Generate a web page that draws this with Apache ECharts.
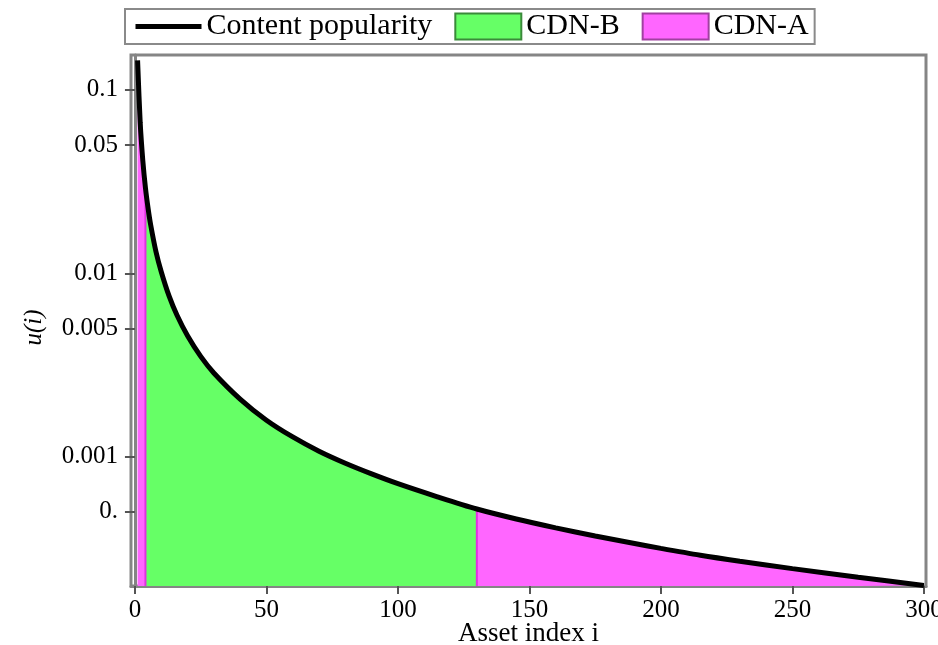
<!DOCTYPE html>
<html>
<head>
<meta charset="utf-8">
<script src="https://cdn.jsdelivr.net/npm/echarts@6/dist/echarts.min.js"></script>
<style>
  html, body { margin: 0; padding: 0; background: #fff; }
  #chart { width: 938px; height: 645px; }
</style>
</head>
<body>
<div id="chart"></div>
<script>
// Asset popularity u(i) sampled along the rank axis
const assetIndex = [1, 2, 3, 4, 5, 6, 8, 10, 13, 16, 20, 25, 30, 40, 50, 60, 70, 80, 90, 100,
                    115, 130, 145, 160, 175, 190, 200, 215, 230, 250, 275, 300];
const popularity = [0.145, 0.066, 0.041, 0.0292, 0.0226, 0.0183, 0.0131, 0.0102, 0.0075, 0.0059,
                    0.00456, 0.00352, 0.00286, 0.00206, 0.00158, 0.00128, 0.00107, 0.00092, 0.000805, 0.000712,
                    0.000604, 0.000518, 0.000457, 0.000409, 0.000369, 0.000336, 0.000316, 0.00029, 0.000269, 0.000245,
                    0.00022, 0.000198];

// Which CDN serves each rank range: [from, to, cdn]
const cdnRanges = [
  [1, 4, 'CDN-A'],
  [4, 130, 'CDN-B'],
  [130, 300, 'CDN-A']
];
const cdnSplits = [4, 130];

const xTicks = [0, 50, 100, 150, 200, 250, 300];
const yTicks = [0.1, 0.05, 0.01, 0.005, 0.001, 0.0005];
const yTickLabels = ['0.1', '0.05', '0.01', '0.005', '0.001', '0.'];

const X_MIN = -1.5, X_MAX = 300.8;
const Y_MIN = 0.000197, Y_MAX = 0.155;

const FONT = "'Liberation Serif', 'Times New Roman', serif";
const COLORS = { 'CDN-A': '#ff66ff', 'CDN-B': '#66ff66' };
const BORDERS = { 'CDN-A': '#a040a0', 'CDN-B': '#3a8a3a' };

const curve = assetIndex.map((x, k) => [x, popularity[k]]);
const valueAt = x => popularity[assetIndex.indexOf(x)];

const areaSeries = cdnRanges.map(([a, b, cdn]) => ({
  name: cdn,
  type: 'line',
  data: curve.filter(p => p[0] >= a && p[0] <= b),
  smooth: 0.3,
  symbol: 'none',
  lineStyle: { width: 0, color: COLORS[cdn] },
  itemStyle: { color: COLORS[cdn] },
  areaStyle: { color: COLORS[cdn], opacity: 1, origin: Y_MIN },
  z: 1,
  silent: true
}));

// vertical edges where coverage switches between CDNs
const edgeSeries = cdnSplits.map(s => ({
  type: 'line',
  data: [[s, Y_MIN], [s, valueAt(s)]],
  symbol: 'none',
  lineStyle: { width: 2, color: '#e030e0' },
  z: 2,
  silent: true
}));

const chart = echarts.init(document.getElementById('chart'), null, { renderer: 'canvas' });
chart.setOption({
  animation: false,
  backgroundColor: '#fff',
  textStyle: { fontFamily: FONT },
  legend: {
    left: 125,
    top: 9,
    padding: [2, 6, 2, 8],
    borderColor: '#8a8a8a',
    borderWidth: 2,
    itemWidth: 66,
    itemHeight: 26,
    itemGap: 22,
    textStyle: { fontFamily: FONT, fontSize: 30, lineHeight: 31, color: '#000' },
    data: [
      { name: 'Content popularity', itemStyle: { opacity: 0 }, lineStyle: { color: '#000', width: 5 } },
      { name: 'CDN-B', icon: 'rect', itemStyle: { color: COLORS['CDN-B'], borderColor: BORDERS['CDN-B'], borderWidth: 2 } },
      { name: 'CDN-A', icon: 'rect', itemStyle: { color: COLORS['CDN-A'], borderColor: BORDERS['CDN-A'], borderWidth: 2 } }
    ]
  },
  grid: {
    left: 131, right: 12, top: 55, bottom: 59,
    outerBoundsMode: 'none',
    containLabel: false,
    show: true, borderColor: '#858585', borderWidth: 3, backgroundColor: '#fff'
  },
  xAxis: {
    type: 'value',
    min: X_MIN, max: X_MAX,
    name: 'Asset index i',
    nameLocation: 'middle',
    nameGap: 34,
    nameMoveOverlap: false,
    nameTextStyle: { fontFamily: FONT, fontSize: 27, color: '#000' },
    axisLine: { show: true, lineStyle: { color: '#858585', width: 3 } },
    axisTick: { show: true, length: 8, lineStyle: { color: '#555', width: 2 }, customValues: xTicks },
    axisLabel: { fontFamily: FONT, fontSize: 25, color: '#000', margin: 12, customValues: xTicks },
    splitLine: { show: false }
  },
  yAxis: {
    type: 'log',
    logBase: 10,
    min: Y_MIN, max: Y_MAX,
    name: 'u(i)',
    nameLocation: 'middle',
    nameGap: 84,
    nameRotate: 90,
    nameMoveOverlap: false,
    nameTextStyle: { fontFamily: FONT, fontSize: 25, fontStyle: 'italic', color: '#000', padding: [0, 14, 0, 0] },
    axisLine: { show: true, lineStyle: { color: '#858585', width: 3 } },
    axisTick: { show: true, length: 10, lineStyle: { color: '#555', width: 2 }, customValues: yTicks },
    axisLabel: {
      fontFamily: FONT, fontSize: 25, color: '#000', margin: 13,
      customValues: yTicks,
      formatter: v => {
        const k = yTicks.findIndex(t => Math.abs(t - v) / t < 1e-6);
        return k >= 0 ? yTickLabels[k] : '';
      }
    },
    splitLine: { show: false }
  },
  series: [
    ...areaSeries,
    ...edgeSeries,
    {
      name: 'Content popularity',
      type: 'line',
      data: curve,
      smooth: 0.3,
      symbol: 'none',
      lineStyle: { color: '#000', width: 5 },
      itemStyle: { color: '#000' },
      z: 5
    }
  ]
});
</script>
</body>
</html>
